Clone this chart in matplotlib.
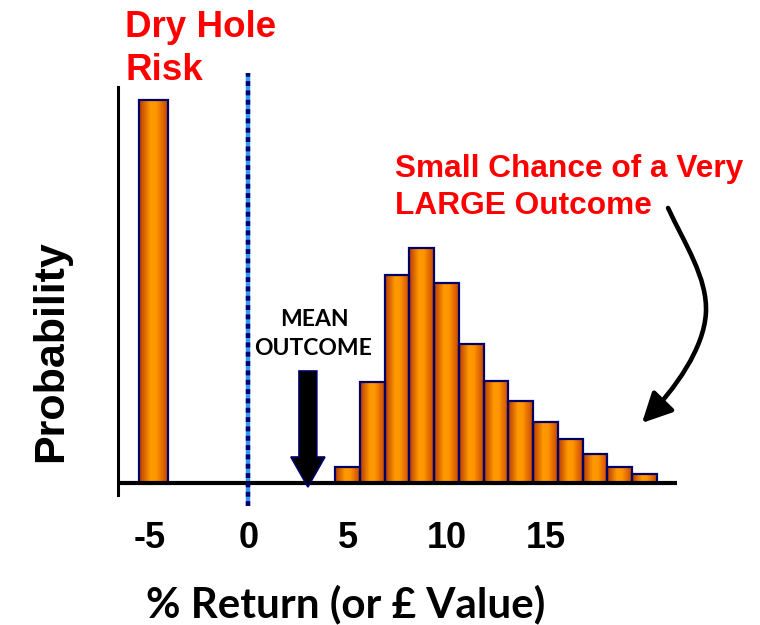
import numpy as np
import matplotlib
matplotlib.use("Agg")
import matplotlib.pyplot as plt
from matplotlib.colors import LinearSegmentedColormap
from matplotlib.patches import FancyArrow, FancyArrowPatch
from matplotlib.path import Path

# dry hole outcome (loss) and the distribution of returns when oil is found
dry_hole_return = -4.8
dry_hole_prob = 38.3

returns = [5, 6.25, 7.5, 8.75, 10, 11.25, 12.5, 13.75, 15, 16.25, 17.5, 18.75, 20]
probs = [1.6, 10.1, 20.8, 23.5, 20.0, 13.9, 10.2, 8.2, 6.1, 4.4, 2.9, 1.6, 0.9]

mean_outcome = 3.0

tick_values = [-5, 0, 5, 10, 15]
tick_labels = ["-5", "0", "5", "10", "15"]

W, H = 760, 625
fig = plt.figure(figsize=(W / 100, H / 100), dpi=100)
ax = fig.add_axes([118 / W, (H - 495) / H, (677 - 118) / W, (495 - 87) / H])

def px(x, y):
    # pixel position (from top-left) -> figure fraction
    return x / W, 1 - y / H

orange = LinearSegmentedColormap.from_list(
    "bar", [(0, "#b83a00"), (0.4, "#ff9a00"), (0.6, "#ff9500"), (1, "#c84600")])
grad = np.linspace(0, 1, 64).reshape(1, -1)
navy = "#000066"

def gradient_bar(x, h, w):
    ax.imshow(grad, cmap=orange, extent=(x - w / 2, x + w / 2, 0, h),
              aspect="auto", interpolation="bilinear", zorder=2)
    ax.bar(x, h, width=w, fill=False, edgecolor=navy, linewidth=1.6, zorder=3)

gradient_bar(dry_hole_return, dry_hole_prob, 1.43)
for r, p in zip(returns, probs):
    gradient_bar(r, p, 1.25)

# zero-return reference line
ax.plot([0, 0], [-2.3, 41], color="#3399ff", lw=3.2, zorder=4, clip_on=False,
        solid_capstyle="butt")
ax.plot([0, 0], [-2.3, 41], color=navy, lw=3.2, zorder=5, clip_on=False,
        linestyle=(0, (1.1, 1.0)), dash_capstyle="butt")

# mean outcome arrow
ax.add_patch(FancyArrow(mean_outcome, 11.2, 0, -11.6, width=0.9, head_width=1.72,
                        head_length=3.0, length_includes_head=True,
                        facecolor="black", edgecolor=navy, lw=1.2, zorder=6,
                        clip_on=False))

# curved pointer towards the long right tail
verts = [(21.19, 27.5), (22.0, 24.0), (23.2, 20.5), (23.1, 17.0),
         (23.0, 13.5), (21.6, 9.5), (19.87, 6.0)]
codes = [Path.MOVETO] + [Path.CURVE4] * 6
ax.add_patch(FancyArrowPatch(path=Path(verts, codes),
                             arrowstyle="-|>,head_length=0.9,head_width=0.45",
                             mutation_scale=20, color="black", lw=3.3,
                             clip_on=False, zorder=6))

ax.set_xlim(-6.59, 21.64)
ax.set_ylim(-1.2, 39.6)
ax.axhline(0, color="black", lw=3, zorder=4, solid_capstyle="butt")

for s in ["top", "right", "bottom"]:
    ax.spines[s].set_visible(False)
ax.spines["left"].set_linewidth(2.2)
ax.set_yticks([])
ax.set_xticks(tick_values)
ax.set_xticklabels(tick_labels, fontfamily="Liberation Sans", fontweight="bold",
                   fontsize=26)
ax.tick_params(axis="x", length=0, pad=19)

arial = dict(family="Liberation Sans", weight="bold")
calibri = dict(family="Lato", weight="bold")

fig.text(*px(125, 36.7), "Dry Hole", color="red", fontsize=26.5, va="baseline", **arial)
fig.text(*px(125, 80), "Risk", color="red", fontsize=26.5, va="baseline", **arial)
fig.text(*px(395, 176.7), "Small Chance of a Very", color="red", fontsize=22.8,
         va="baseline", **arial)
fig.text(*px(395, 214), "LARGE Outcome", color="red", fontsize=22.8,
         va="baseline", **arial)

fig.text(*px(314, 326.5), "MEAN", fontsize=16.5, ha="center", va="baseline", **calibri)
fig.text(*px(313, 355), "OUTCOME", fontsize=16.5, ha="center", va="baseline",
         **calibri)

fig.text(*px(61.7, 351), "Probability", fontsize=31, rotation=90,
         rotation_mode="anchor", ha="center", va="baseline", **arial)
fig.text(*px(345.5, 617), "% Return (or £ Value)", fontsize=30.3, ha="center",
         va="baseline", **calibri)

fig.savefig("out.png", dpi=100)
